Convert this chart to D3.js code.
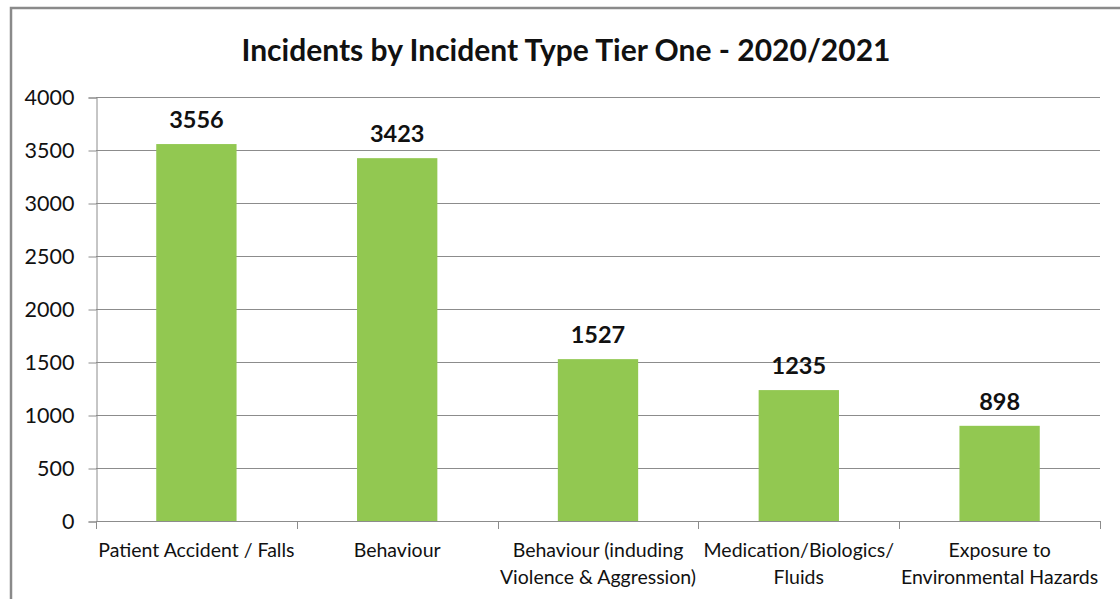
<!DOCTYPE html>
<html>
<head>
<meta charset="utf-8">
<script src="https://cdn.jsdelivr.net/npm/d3@7/dist/d3.min.js"></script>
<style>
  html, body { margin: 0; padding: 0; background: #fff; }
  svg { display: block; }
  text { font-family: Lato, "Open Sans", sans-serif; fill: #111; }
</style>
</head>
<body>
<svg id="chart" width="1120" height="599"></svg>
<script>
// Incident counts by tier-one type, 2020/2021
const categories = [
  ["Patient Accident / Falls"],
  ["Behaviour"],
  ["Behaviour (induding", "Violence & Aggression)"],
  ["Medication/Biologics/", "Fluids"],
  ["Exposure to", "Environmental Hazards"]
];
const values = [3556, 3423, 1527, 1235, 898];
const yTicks = [0, 500, 1000, 1500, 2000, 2500, 3000, 3500, 4000];
const title = "Incidents by Incident Type Tier One - 2020/2021";

const svg = d3.select("#chart");
const W = 1120, H = 599;
const plot = { left: 96, right: 1100, top: 97, bottom: 521 };

// outer frame (top and left edges visible)
svg.append("path")
  .attr("d", `M11,${H} L11,8 L${W},8`)
  .attr("fill", "none")
  .attr("stroke", "#8a8a8a")
  .attr("stroke-width", 2.5);

svg.append("text")
  .attr("x", 566).attr("y", 61)
  .attr("text-anchor", "middle")
  .style("font-size", "30px")
  .style("font-weight", "bold")
  .text(title);

const x = d3.scaleBand()
  .domain(d3.range(categories.length))
  .range([plot.left, plot.right])
  .paddingInner(0.6).paddingOuter(0.3);

const y = d3.scaleLinear().domain([0, 4000]).range([plot.bottom, plot.top]);

// horizontal gridlines
svg.append("g").selectAll("line")
  .data(yTicks.filter(d => d > 0))
  .join("line")
  .attr("x1", plot.left).attr("x2", plot.right)
  .attr("y1", d => Math.round(y(d)) + 0.5).attr("y2", d => Math.round(y(d)) + 0.5)
  .attr("stroke", "#8c8c8c").attr("stroke-width", 1);

// y axis
const yAxis = svg.append("g")
  .attr("transform", `translate(${plot.left + 0.5},0.5)`)
  .call(d3.axisLeft(y).tickValues(yTicks).tickSize(8).tickPadding(14).tickFormat(d3.format("d")));
yAxis.select(".domain").attr("stroke", "#8c8c8c");
yAxis.selectAll(".tick line").attr("stroke", "#8c8c8c");
yAxis.selectAll(".tick text")
  .style("font-size", "21.5px").style("font-family", "Lato, sans-serif").attr("fill", "#111");

// bars
svg.append("g").selectAll("rect")
  .data(values)
  .join("rect")
  .attr("x", (d, i) => x(i))
  .attr("width", x.bandwidth())
  .attr("y", d => y(d))
  .attr("height", d => y(0) - y(d))
  .attr("fill", "#92c851");

// value labels
svg.append("g").selectAll("text")
  .data(values)
  .join("text")
  .attr("x", (d, i) => x(i) + x.bandwidth() / 2)
  .attr("y", d => y(d) - 16)
  .attr("text-anchor", "middle")
  .style("font-size", "23.5px")
  .style("font-weight", "bold")
  .text(d => d);

// x axis baseline and category boundary ticks
const xb = svg.append("g");
xb.append("line")
  .attr("x1", plot.left).attr("x2", plot.right)
  .attr("y1", plot.bottom + 0.5).attr("y2", plot.bottom + 0.5)
  .attr("stroke", "#8c8c8c");
const step = x.step();
xb.selectAll("line.tk")
  .data(d3.range(categories.length + 1))
  .join("line").attr("class", "tk")
  .attr("x1", i => Math.round(plot.left + i * step) + 0.5)
  .attr("x2", i => Math.round(plot.left + i * step) + 0.5)
  .attr("y1", plot.bottom).attr("y2", plot.bottom + 8)
  .attr("stroke", "#8c8c8c");

// category labels
const cl = svg.append("g").selectAll("text")
  .data(categories)
  .join("text")
  .attr("text-anchor", "middle")
  .attr("x", (d, i) => x(i) + x.bandwidth() / 2)
  .attr("y", 557)
  .style("font-size", "19.5px");
cl.selectAll("tspan")
  .data(d => d)
  .join("tspan")
  .attr("x", function() { return this.parentNode.getAttribute("x"); })
  .attr("dy", (d, j) => j === 0 ? 0 : 27)
  .text(d => d);
</script>
</body>
</html>
